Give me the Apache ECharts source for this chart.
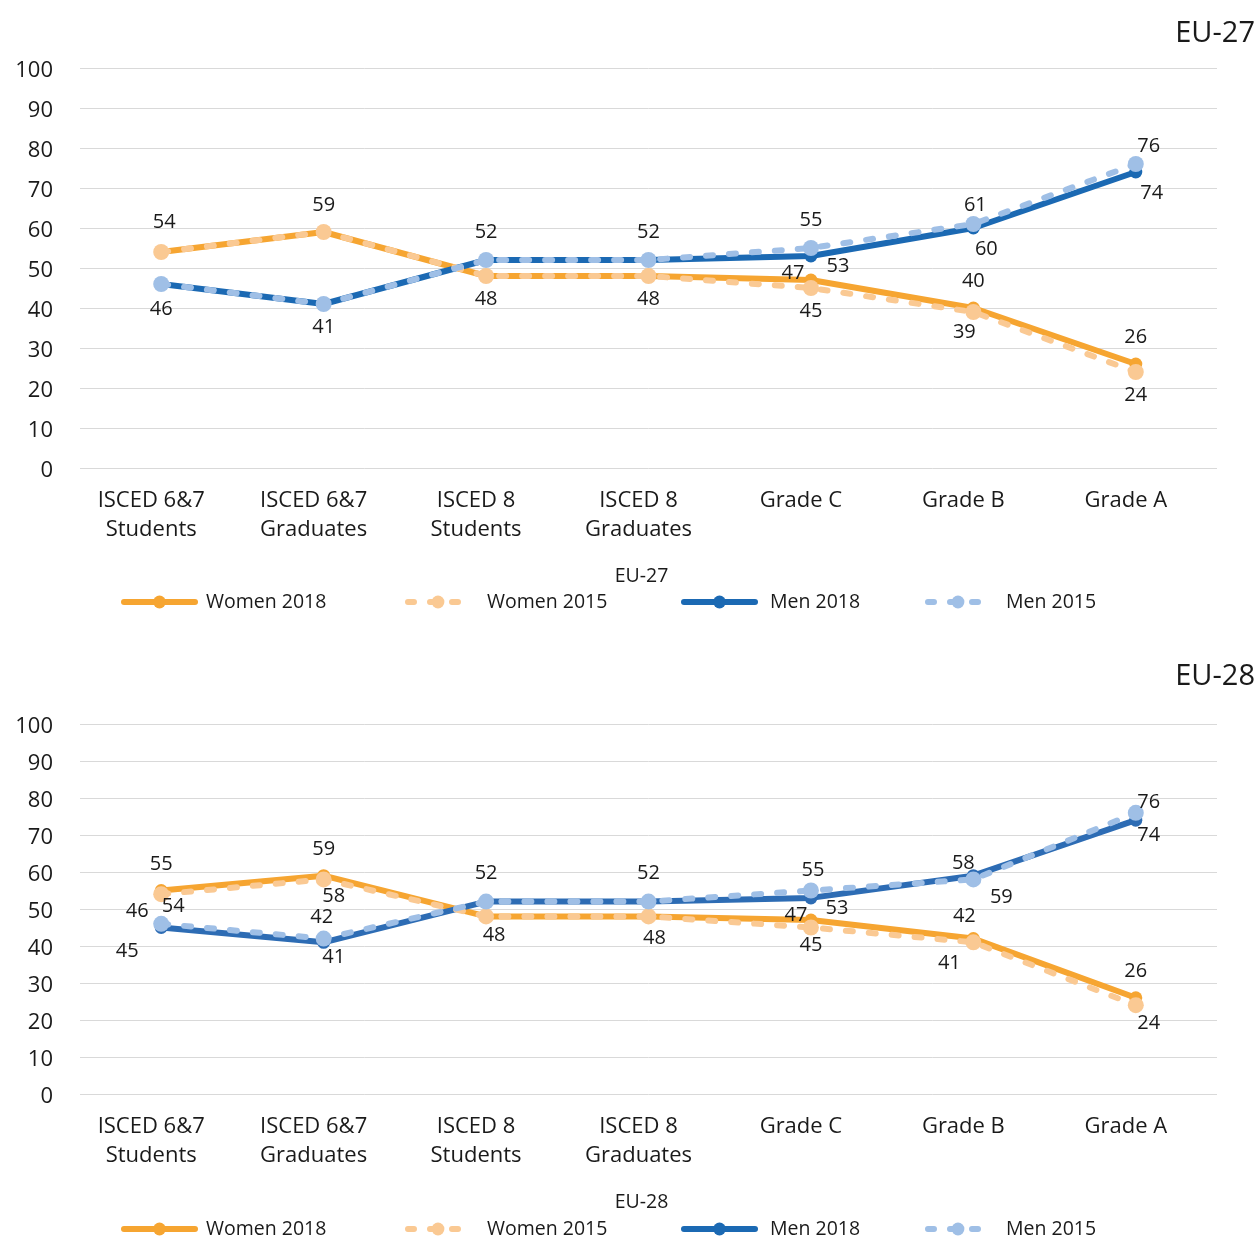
<!DOCTYPE html>
<html>
<head>
<meta charset="utf-8">
<script src="https://cdn.jsdelivr.net/npm/echarts@6/dist/echarts.min.js"></script>
<style>
html,body{margin:0;padding:0;background:#fff;}
#chart{width:1258px;height:1236px;}
</style>
</head>
<body>
<div id="chart"></div>
<script>
// ---------- DATA ----------
const categories = ['ISCED 6&7\nStudents', 'ISCED 6&7\nGraduates', 'ISCED 8\nStudents', 'ISCED 8\nGraduates', 'Grade C', 'Grade B', 'Grade A'];
const yTicks = [0, 10, 20, 30, 40, 50, 60, 70, 80, 90, 100];

// EU-27
const eu27Women2018 = [54, 59, 48, 48, 47, 40, 26];
const eu27Women2015 = [54, 59, 48, 48, 45, 39, 24];
const eu27Men2018   = [46, 41, 52, 52, 53, 60, 74];
const eu27Men2015   = [46, 41, 52, 52, 55, 61, 76];

// EU-28
const eu28Women2018 = [55, 59, 48, 48, 47, 42, 26];
const eu28Women2015 = [54, 58, 48, 48, 45, 41, 24];
const eu28Men2018   = [45, 41, 52, 52, 53, 59, 74];
const eu28Men2015   = [46, 42, 52, 52, 55, 58, 76];

const seriesNames = ['Women 2018', 'Women 2015', 'Men 2018', 'Men 2015'];

// ---------- LABEL LAYOUT (not data) ----------
const hidden27 = { 'Women 2018': [2, 3], 'Women 2015': [0, 1], 'Men 2018': [2, 3], 'Men 2015': [0, 1] };
const hidden28 = { 'Women 2018': [2, 3], 'Women 2015': [], 'Men 2018': [2, 3], 'Men 2015': [] };
const offsets27 = {
  'Women 2018': { 0: [3, -3], 4: [-18, 20] },
  'Women 2015': { 5: [-9, -3] },
  'Men 2018': { 0: [0, 4], 1: [0, 2], 4: [27, -11], 5: [13, 0], 6: [16, 0] },
  'Men 2015': { 5: [2, 9], 6: [13, 10] }
};
const offsets28 = {
  'Women 2018': { 4: [-15, 22], 5: [-9, 4] },
  'Women 2015': { 0: [12, -11], 1: [10, -6], 2: [8, -4], 3: [6, -1], 4: [0, -5], 5: [-24, -2], 6: [13, -5] },
  'Men 2018': { 0: [-34, 2], 1: [10, -7], 4: [26, -11], 5: [28, 0], 6: [13, -6] },
  'Men 2015': { 0: [-24, 15], 1: [-2, 7], 4: [2, 8], 5: [-10, 12], 6: [13, 17] }
};

const FONT = 'Open Sans';
const TXT = '#1a1a1a';
const DASH = [7, 16];
const styles = {
  'Women 2018': { color: '#F6A531', dashed: false, pos: 'top', z: 2, textPad: 6 },
  'Women 2015': { color: '#FAC993', dashed: true, pos: 'bottom', z: 4, textPad: 14 },
  'Men 2018':   { color: '#1B69B3', dashed: false, pos: 'bottom', z: 3, textPad: 10 },
  'Men 2015':   { color: '#9FBFE6', dashed: true, pos: 'top', z: 5, textPad: 13 }
};

function makeSeries(gridIdx, name, values, hidden, offs, menColor) {
  const st = styles[name];
  const color = (name === 'Men 2018' && menColor) ? menColor : st.color;
  const data = values.map((v, i) => {
    const o = offs[name] && offs[name][i] ? offs[name][i] : [0, 0];
    return { value: v, label: { show: hidden[name].indexOf(i) < 0, offset: o } };
  });
  return {
    name: name,
    type: 'line',
    xAxisIndex: gridIdx,
    yAxisIndex: gridIdx,
    data: data,
    z: st.z,
    symbol: 'circle',
    symbolSize: st.dashed ? 16 : 13,
    itemStyle: { color: color },
    lineStyle: st.dashed
      ? { color: color, width: 6, type: DASH, cap: 'round' }
      : { color: color, width: 6, cap: 'round' },
    label: {
      show: true,
      position: st.pos,
      distance: st.pos === 'top' ? 10 : 5,
      color: TXT,
      fontSize: 20,
      fontFamily: FONT
    },
    emphasis: { disabled: true },
    animation: false
  };
}

function makeAxes(idx, name) {
  return {
    x: {
      type: 'category', gridIndex: idx, data: categories, boundaryGap: true,
      axisLine: { show: false }, axisTick: { show: false },
      axisLabel: { color: TXT, fontSize: 22, fontFamily: FONT, lineHeight: 29, margin: 18, interval: 0, padding: [0, 20, 0, 0] },
      name: name, nameLocation: 'middle', nameGap: 98,
      nameTextStyle: { color: TXT, fontSize: 19.5, fontFamily: FONT, padding: [0, 14, 0, 0] }
    },
    y: {
      type: 'value', gridIndex: idx, min: yTicks[0], max: yTicks[yTicks.length - 1], interval: yTicks[1] - yTicks[0],
      axisLine: { show: false }, axisTick: { show: false },
      axisLabel: { color: TXT, fontSize: 22, fontFamily: FONT, margin: 27, verticalAlign: 'top', lineHeight: 6 },
      splitLine: { lineStyle: { color: '#d9d9d9', width: 1 } }
    }
  };
}

const a1 = makeAxes(0, 'EU-27');
const a2 = makeAxes(1, 'EU-28');

function makeLegends(top) {
  const lefts = [121, 405, 681, 925];
  return seriesNames.map((n, i) => ({
    data: [n],
    left: lefts[i],
    top: top,
    padding: 0,
    itemWidth: styles[n].dashed ? 60 : 71,
    itemHeight: 16,
    selectedMode: false,
    lineStyle: styles[n].dashed ? { width: 6, type: [6, 16], cap: 'round' } : { width: 6, cap: 'round' },
    textStyle: { color: TXT, fontSize: 19.5, fontFamily: FONT, padding: [0, 0, 0, styles[n].textPad] }
  }));
}

const option = {
  backgroundColor: '#fff',
  animation: false,
  title: [
    { text: 'EU-27', right: -2, top: 14, textStyle: { color: TXT, fontSize: 29, fontWeight: 'normal', fontFamily: FONT } },
    { text: 'EU-28', right: -2, top: 657, textStyle: { color: TXT, fontSize: 29, fontWeight: 'normal', fontFamily: FONT } }
  ],
  grid: [
    { left: 80, width: 1137, top: 68, height: 400 },
    { left: 80, width: 1137, top: 724, height: 370 }
  ],
  xAxis: [a1.x, a2.x],
  yAxis: [a1.y, a2.y],
  legend: makeLegends(592).concat(makeLegends(1219)),
  series: [
    makeSeries(0, 'Women 2018', eu27Women2018, hidden27, offsets27),
    makeSeries(0, 'Men 2018', eu27Men2018, hidden27, offsets27),
    makeSeries(0, 'Women 2015', eu27Women2015, hidden27, offsets27),
    makeSeries(0, 'Men 2015', eu27Men2015, hidden27, offsets27),
    makeSeries(1, 'Women 2018', eu28Women2018, hidden28, offsets28),
    makeSeries(1, 'Men 2018', eu28Men2018, hidden28, offsets28, '#2D6CB4'),
    makeSeries(1, 'Women 2015', eu28Women2015, hidden28, offsets28),
    makeSeries(1, 'Men 2015', eu28Men2015, hidden28, offsets28)
  ]
};

const chart = echarts.init(document.getElementById('chart'), null, { renderer: 'canvas' });
chart.setOption(option);
</script>
</body>
</html>
